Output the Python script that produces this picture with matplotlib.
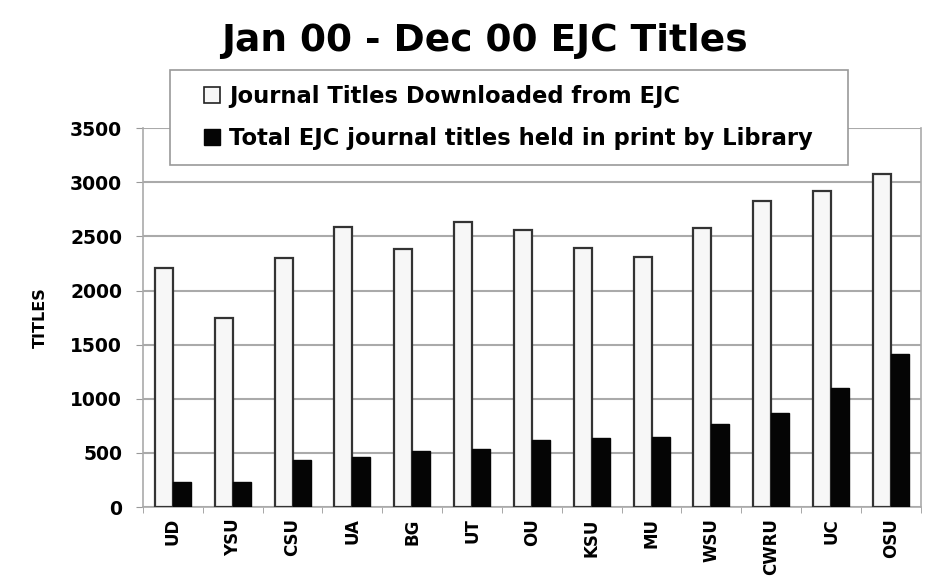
import matplotlib
matplotlib.use("Agg")
import matplotlib.pyplot as plt
import numpy as np
from matplotlib.patches import Patch, Rectangle

categories = ["UD", "YSU", "CSU", "UA", "BG", "UT", "OU", "KSU", "MU", "WSU", "CWRU", "UC", "OSU"]
downloaded = [2210, 1750, 2300, 2585, 2380, 2630, 2560, 2390, 2310, 2580, 2830, 2920, 3080]
held_print = [230, 235, 430, 465, 520, 540, 620, 640, 645, 770, 870, 1100, 1410]
yticks = [0, 500, 1000, 1500, 2000, 2500, 3000, 3500]

plt.rcParams['font.family'] = ['DejaVu Sans']
plt.rcParams['font.weight'] = 'bold'

W, H = 932, 585
fig = plt.figure(figsize=(9.32, 5.85), dpi=100)
ax = fig.add_axes([0.1534, 0.1333, 0.8346, 0.6477])

x = np.arange(len(categories))
w = 0.3
ax.bar(x - w/2, downloaded, width=w, color='#f7f7f7', edgecolor='#333333', linewidth=1.6, zorder=3,
       label='Journal Titles Downloaded from EJC')
ax.bar(x + w/2, held_print, width=w, color='#050505', edgecolor='#050505', linewidth=1.0, zorder=3,
       label='Total EJC journal titles held in print by Library')

ax.set_xlim(-0.5, len(categories) - 0.5)
ax.set_ylim(0, 3500)
ax.set_yticks(yticks)
ax.set_yticklabels([str(v) for v in yticks], fontsize=13.5, fontweight='bold')
ax.set_xticks(x)
ax.set_xticklabels(categories, rotation=90, fontsize=12, fontweight='bold')
ax.tick_params(axis='x', length=0, pad=8)
ax.set_xticks(np.arange(-0.5, len(categories), 1), minor=True)
ax.tick_params(axis='x', which='minor', length=4, color='#999999', direction='out')
ax.tick_params(axis='y', length=5, color='#999999', pad=10)
ax.yaxis.grid(True, color='#aaaaaa', linewidth=1.5, zorder=0)
ax.set_axisbelow(True)
ax.spines['top'].set_visible(False)
for s in ['left', 'bottom', 'right']:
    ax.spines[s].set_color('#aaaaaa')
    ax.spines[s].set_linewidth(1.2)

ax.set_ylabel('TITLES', fontsize=11.5, fontweight='bold', labelpad=16)

fig.text(0.52, 0.93, 'Jan 00 - Dec 00 EJC Titles', ha='center', va='center',
         fontsize=27, fontweight='bold')

# legend frame (drawn separately so the inner padding matches the original)
frame = Rectangle((170 / W, 1 - 165 / H), (848 - 170) / W, (165 - 70) / H,
                  transform=fig.transFigure, facecolor='white', edgecolor='#999999',
                  linewidth=1.2, zorder=5)
fig.patches.append(frame)

handles = [Patch(facecolor='#f7f7f7', edgecolor='#222222', linewidth=1.2),
           Patch(facecolor='#050505', edgecolor='#050505')]
labels = ['Journal Titles Downloaded from EJC', 'Total EJC journal titles held in print by Library']
leg = fig.legend(handles, labels, loc='upper left', bbox_to_anchor=(204 / W, 1 - 85 / H),
                 frameon=False, handlelength=0.7, handleheight=0.7,
                 handletextpad=0.4, labelspacing=0.85, borderpad=0, borderaxespad=0,
                 prop={'weight': 'bold', 'size': 16.3})
leg.set_zorder(6)

fig.savefig('out.png', dpi=100, facecolor='white')
